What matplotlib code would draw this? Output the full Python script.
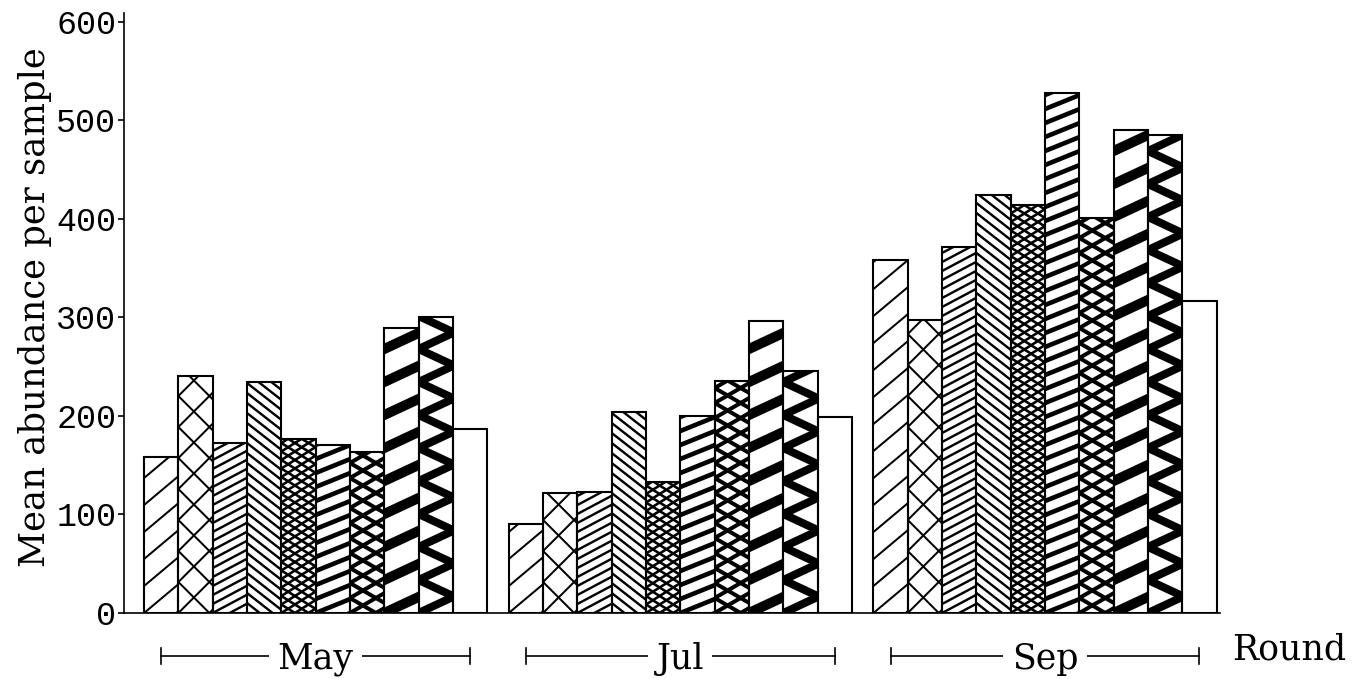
import matplotlib
matplotlib.use("Agg")
import matplotlib.pyplot as plt
from matplotlib.collections import LineCollection
from matplotlib.transforms import IdentityTransform, blended_transform_factory
import numpy as np

# ---------------- data ----------------
rounds = ["May", "Jul", "Sep"]
may_values = [158, 241, 173, 234, 177, 171, 163, 289, 300, 187]
jul_values = [90, 122, 123, 204, 133, 200, 235, 296, 246, 199]
sep_values = [358, 297, 371, 424, 414, 528, 401, 490, 485, 317]
series_by_round = [may_values, jul_values, sep_values]
y_ticks = [0, 100, 200, 300, 400, 500, 600]
y_label = "Mean abundance per sample"
x_title = "Round"

# ---------------- styling ----------------
TICK_FONT = "Liberation Mono"
TEXT_FONT = "DejaVu Serif"
# hatch families per bar position: (angle deg, vertical spacing px, line width px)
hatch_styles = [
    [(40, 27, 2.0)],
    [(45, 31, 2.0), (-45, 31, 2.0)],
    [(28, 9, 2.4)],
    [(-38, 10, 2.4)],
    [(32, 8.5, 2.6), (-32, 8.5, 2.6)],
    [(22, 14, 4.6)],
    [(30, 15, 4.0), (-30, 15, 4.0)],
    [(25, 33, 10.0)],
    [(25, 33, 8.0), (-25, 33, 8.0)],
    [],
]
group_offset = 10.63
bar_width = 1.0

fig = plt.figure(figsize=(13.71, 6.79), dpi=100)
ax = fig.add_axes([124 / 1371, 66 / 679, 1096 / 1371, 600 / 679])
ax.set_xlim(-1.085, 30.86)
ax.set_ylim(0, 609)

for s in ["top", "right"]:
    ax.spines[s].set_visible(False)
ax.spines["left"].set_linewidth(1.2)
ax.spines["bottom"].set_linewidth(1.2)
ax.set_xticks([])
ax.set_yticks(y_ticks)
ax.set_yticklabels([str(v) for v in y_ticks], fontsize=24, family=TICK_FONT)
ax.tick_params(axis="y", length=4.5, width=1.2, pad=1)
ax.set_ylabel(y_label, fontsize=25.5, family=TEXT_FONT)
ax.yaxis.set_label_coords(-0.066, 0.51)


def add_hatch(rect, fams):
    x0 = rect.get_x()
    w = rect.get_width()
    h = rect.get_height()
    px0, py0 = ax.transData.transform((x0, 0))
    px1, py1 = ax.transData.transform((x0 + w, h))
    W = px1 - px0
    for ang, v, lw in fams:
        t = np.tan(np.radians(ang))
        kmin = int(np.floor((-abs(t) * W - 2 * lw) / v)) - 1
        kmax = int(np.ceil((py1 - py0 + abs(t) * W + 2 * lw) / v)) + 1
        segs = []
        for k in range(kmin, kmax + 1):
            segs.append([(px0 - 5, py0 + t * (-5) + k * v),
                         (px1 + 5, py0 + t * (W + 5) + k * v)])
        lc = LineCollection(segs, colors="black", linewidths=lw * 0.72,
                            transform=IdentityTransform(), zorder=3)
        ax.add_collection(lc, autolim=False)
        lc.set_clip_path(rect)


for g, vals in enumerate(series_by_round):
    xs = [g * group_offset + i for i in range(len(vals))]
    bars = ax.bar(xs, vals, width=bar_width, color="white", edgecolor="none", zorder=2)
    for i, rect in enumerate(bars):
        add_hatch(rect, hatch_styles[i])
    ax.bar(xs, vals, width=bar_width, fill=False, edgecolor="black",
           linewidth=1.5, zorder=4)

# brackets below the axis
trans = blended_transform_factory(ax.transData, ax.transAxes)
y_br = -43 / 600
tick_h = 8 / 600
for g, name in enumerate(rounds):
    a = g * group_offset
    b = g * group_offset + 9
    ax.plot([a, b], [y_br, y_br], transform=trans, clip_on=False, color="black", lw=1.2)
    ax.plot([a, a], [y_br - tick_h, y_br + tick_h], transform=trans, clip_on=False,
            color="black", lw=1.2)
    ax.plot([b, b], [y_br - tick_h, y_br + tick_h], transform=trans, clip_on=False,
            color="black", lw=1.2)
    ax.text((a + b) / 2, -56 / 600, name, transform=trans, ha="center", va="baseline",
            fontsize=25, family=TEXT_FONT, zorder=5,
            bbox=dict(facecolor="white", edgecolor="none", pad=6))

ax.text(31.2, -47 / 600, x_title, transform=trans, ha="left", va="baseline",
        fontsize=25, family=TEXT_FONT)

fig.savefig("out.png", dpi=100)
